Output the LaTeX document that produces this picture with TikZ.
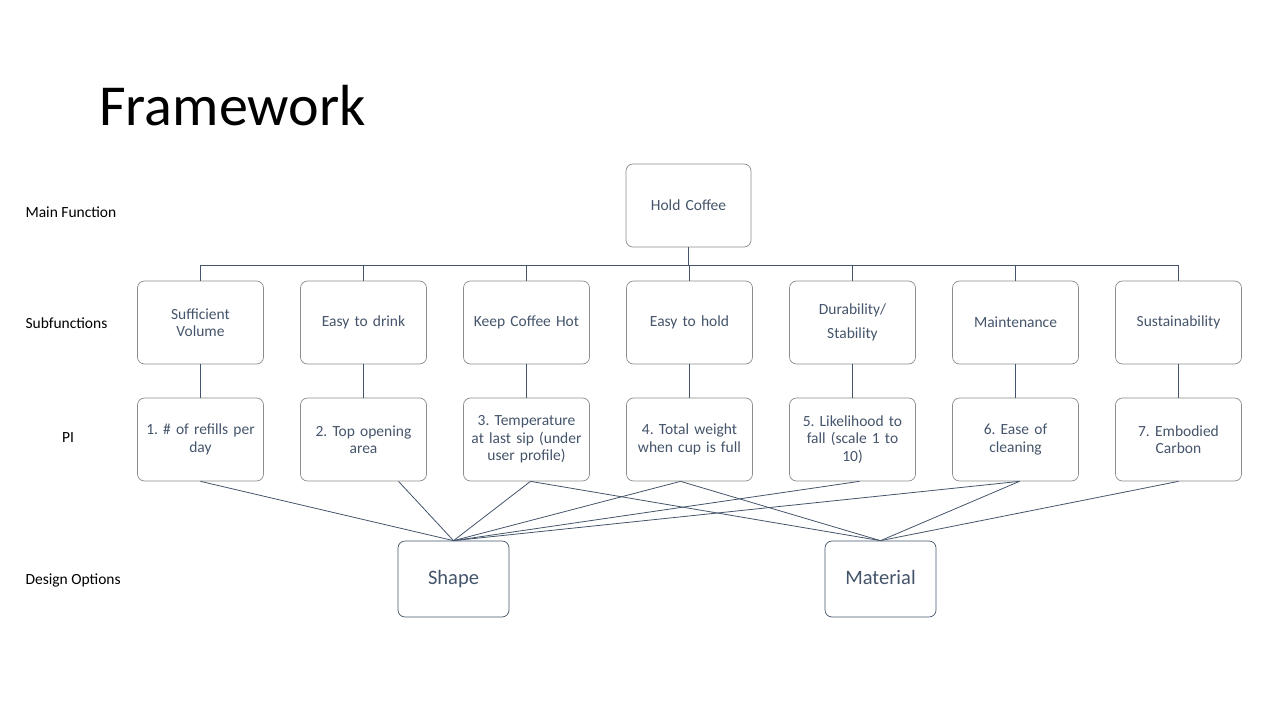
\documentclass[tikz,border=0pt]{standalone}
\usepackage{fontspec}
\setmainfont{Carlito}
\usepackage{xcolor}
\usepackage{tikz}
\usetikzlibrary{positioning}

\definecolor{slate}{HTML}{44546A}
\definecolor{boxgray}{HTML}{8C8C8C}

\tikzset{
  fbox/.style={draw=boxgray, line width=0.7pt, rounded corners=7pt,
    minimum width=126pt, minimum height=83pt, text width=118pt,
    align=center, text=slate, font=\fontsize{15.5}{17.5}\selectfont},
  dbox/.style={draw=slate, line width=0.7pt, rounded corners=7pt,
    minimum width=111pt, minimum height=76pt, text=slate,
    text height=15pt, text depth=4pt,
    font=\fontsize{20.5}{22}\selectfont},
  link/.style={draw=slate, line width=0.8pt},
  rowlabel/.style={anchor=west, font=\fontsize{15.5}{17}\selectfont}
}

\begin{document}
\frenchspacing
\begin{tikzpicture}[x=1pt, y=-1pt]
    \useasboundingbox (0,0) rectangle (1280,720);
    % title and row labels
    \node[anchor=base west, inner sep=0pt, font=\fontsize{58}{70}\selectfont] (title) at (99,125) {Framework};
    \node[rowlabel] (lblmain) at (22,212) {Main Function};
    \node[rowlabel] (lblsub) at (22,323) {Subfunctions};
    \node[font=\fontsize{15.5}{17}\selectfont] (lblpi) at (68,438) {PI};
    \node[rowlabel] (lbldesign) at (22,580) {Design Options};
    % main function
    \node[fbox, minimum width=125pt] (main) at (688.5,205.5) {Hold Coffee};
    \coordinate (bus) at (688.5,265);
    % subfunctions and performance indicators
    \foreach \sub/\pi [count=\i] in {
        {Sufficient\\Volume}/{1. \# of refills per\\day},
        {Easy to drink}/{2. Top opening\\area},
        {Keep Coffee Hot}/{3. Temperature\\at last sip (under\\user profile)},
        {Easy to hold}/{4. Total weight\\when cup is full},
        {Durability/\\[7pt]Stability}/{5. Likelihood to\\fall (scale 1 to\\10)},
        {Maintenance}/{6. Ease of\\cleaning},
        {Sustainability}/{7. Embodied\\Carbon}}{
      \node[fbox] (sub\i) at ({200.5+163*(\i-1)},322.5) {\sub};
      \node[fbox] (pi\i) at ({200.5+163*(\i-1)},439.5) {\pi};
      \draw[link] (sub\i.north) |- (bus);
      \draw[link] (sub\i) -- (pi\i);
    }
    \draw[link] (main) -- (bus);
    % design options
    \node[dbox] (shape) at (453.5,579) {Shape};
    \node[dbox] (material) at (880.5,579) {Material};
    \foreach \i/\dx in {1/0,2/35,3/4,4/-9,5/7,6/4}{
      \draw[link] ([xshift=\dx pt]pi\i.south) -- (shape.north);
    }
    \foreach \i/\dx in {3/4,4/-9,6/4,7/0}{
      \draw[link] ([xshift=\dx pt]pi\i.south) -- (material.north);
    }
\end{tikzpicture}
\end{document}
